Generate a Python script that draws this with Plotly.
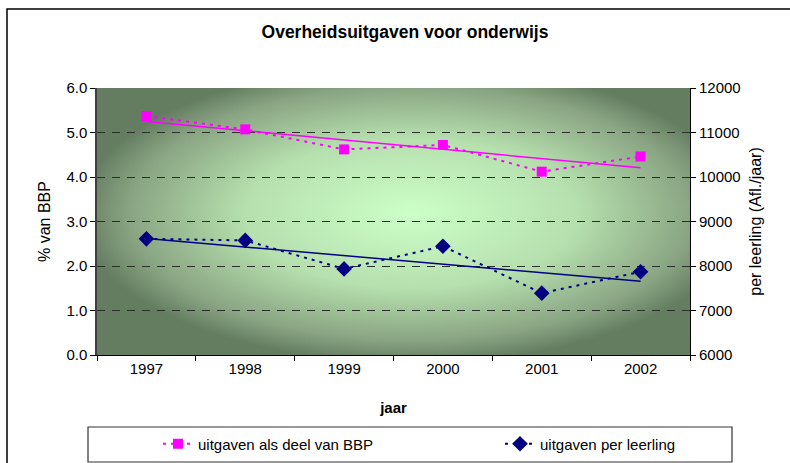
import base64
import numpy as np
import plotly.graph_objects as go

# Data
jaren = ['1997', '1998', '1999', '2000', '2001', '2002']
pct_bbp = [5.37, 5.07, 4.62, 4.72, 4.12, 4.46]
per_leerling = [8610, 8575, 7935, 8445, 7390, 7870]

PINK = '#ff00ff'
NAVY = '#000080'
FONT = 'Liberation Sans, Arial, sans-serif'

W, H = 790, 463
L, R, T, B = 97, 100, 88, 108
PW, PH = W - L - R, H - T - B


def px_x(x):
    return (x - L) / PW


def px_y(y):
    return 1 - (y - T) / PH


# linear trend lines (as Excel adds them)
idx = np.arange(len(jaren))
trend_bbp = np.polyval(np.polyfit(idx, pct_bbp, 1), idx)
trend_ll = np.polyval(np.polyfit(idx, per_leerling, 1), idx)

# radial gradient background for the plot area
svg = (
    "<svg xmlns='http://www.w3.org/2000/svg' width='593' height='267' preserveAspectRatio='none'>"
    "<defs><radialGradient id='g' cx='0.53' cy='0.47' r='0.56'>"
    "<stop offset='0' stop-color='#ccffc8'/>"
    "<stop offset='0.5' stop-color='#b6e0ae'/>"
    "<stop offset='0.85' stop-color='#89a482'/>"
    "<stop offset='1' stop-color='#647d61'/>"
    "</radialGradient></defs>"
    "<rect width='100%' height='100%' fill='url(#g)'/></svg>"
)
bg_src = 'data:image/svg+xml;base64,' + base64.b64encode(svg.encode()).decode()

fig = go.Figure()

fig.add_trace(go.Scatter(
    x=jaren, y=pct_bbp, name='uitgaven als deel van BBP',
    mode='lines+markers', legend='legend',
    line=dict(color=PINK, width=2, dash='3px,5px'),
    marker=dict(symbol='square', size=10, color=PINK),
))
fig.add_trace(go.Scatter(
    x=jaren, y=trend_bbp, mode='lines', showlegend=False,
    line=dict(color=PINK, width=1.5), hoverinfo='skip',
))
fig.add_trace(go.Scatter(
    x=jaren, y=per_leerling, name='uitgaven per leerling',
    mode='lines+markers', yaxis='y2', legend='legend2',
    line=dict(color=NAVY, width=2, dash='3px,5px'),
    marker=dict(symbol='diamond', size=12, color=NAVY),
))
fig.add_trace(go.Scatter(
    x=jaren, y=trend_ll, mode='lines', showlegend=False, yaxis='y2',
    line=dict(color=NAVY, width=1.5), hoverinfo='skip',
))

legend_style = dict(
    orientation='h', xanchor='left', y=px_y(444), yanchor='middle',
    bgcolor='rgba(0,0,0,0)', borderwidth=0, font=dict(size=15),
)

fig.update_layout(
    width=W, height=H,
    margin=dict(l=L, r=R, t=T, b=B, autoexpand=False),
    paper_bgcolor='white',
    plot_bgcolor='#647d61',
    font=dict(family=FONT, size=15, color='black'),
    title=dict(text='<b>Overheidsuitgaven voor onderwijs</b>', x=405 / W, xanchor='center',
               y=1 - 32 / H, yanchor='middle', font=dict(size=17.5)),
    xaxis=dict(
        type='category', range=[-0.5, 5.5], tickson='boundaries',
        ticks='outside', ticklen=5, tickcolor='black',
        showline=True, linecolor='black', linewidth=1, mirror=False,
        showgrid=False, fixedrange=True,
        title=dict(text='<b>jaar</b>', standoff=26, font=dict(size=15)),
    ),
    yaxis=dict(
        range=[0, 6], dtick=1, tickformat='.1f',
        ticks='outside', ticklen=5, tickcolor='black',
        showline=True, linecolor='#404040', linewidth=1.5,
        showgrid=True, gridcolor='#2b2f2a', gridwidth=1, griddash='8px,7px',
        zeroline=False,
        title=dict(text='% van BBP', standoff=12, font=dict(size=16)),
    ),
    yaxis2=dict(
        overlaying='y', side='right', range=[6000, 12000], dtick=1000, tickformat='d',
        ticks='outside', ticklen=5, tickcolor='black',
        showline=True, linecolor='black', linewidth=1,
        showgrid=False, zeroline=False,
        title=dict(text='per leerling (Afl./jaar)', standoff=10, font=dict(size=16)),
    ),
    legend=dict(x=px_x(158), **legend_style),
    legend2=dict(x=px_x(500), **legend_style),
    images=[dict(
        source=bg_src, xref='paper', yref='paper', x=0, y=1,
        sizex=1, sizey=1, sizing='stretch', layer='below',
        xanchor='left', yanchor='top',
    )],
    shapes=[
        # chart frame
        dict(type='rect', xref='paper', yref='paper',
             x0=px_x(7), x1=px_x(W + 20), y0=px_y(H + 20), y1=px_y(9),
             line=dict(color='black', width=1.5)),
        # legend frame
        dict(type='rect', xref='paper', yref='paper',
             x0=px_x(88), x1=px_x(732), y0=px_y(462), y1=px_y(427),
             line=dict(color='#333333', width=1.2)),
    ],
    showlegend=True,
)

# drop the default page margin so the figure sits at the window's corner
fig.write_html('out.html', config={'displayModeBar': False},
               post_script="document.body.style.margin='0';")
